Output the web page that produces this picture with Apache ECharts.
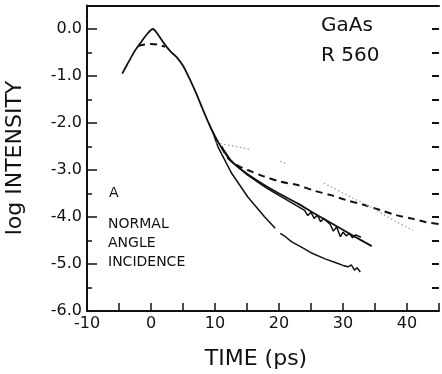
<!DOCTYPE html>
<html><head><meta charset="utf-8">
<script src="https://cdn.jsdelivr.net/npm/echarts@6/dist/echarts.min.js"></script>
<style>html,body{margin:0;padding:0;background:#fff}#c{width:442px;height:374px}</style>
</head><body><div id="c"></div>
<script>
// Main solid curve: peak, then the smooth middle decay line
const mainCurve = [[-4.5,-0.95],[-3.5,-0.7],[-2.5,-0.46],[-1.5,-0.27],[-0.5,-0.09],[0.3,0.0],[1,-0.1],[2,-0.3],[3,-0.47],[4,-0.6],[5,-0.78],[6,-1.05],[7,-1.35],[8,-1.68],[9,-2.0],[10,-2.28],[11,-2.52],[12.6,-2.82],[15,-3.08],[17.7,-3.32],[20,-3.5],[22.9,-3.71],[25.6,-3.93],[29.7,-4.25],[32,-4.43],[34.5,-4.62]];
// Noisy middle measured curve
const noisyCurve = [[11,-2.5],[12.5,-2.8],[15,-3.1],[18,-3.38],[21,-3.62],[23,-3.78],[24,-3.86],[24.5,-3.97],[25,-3.9],[25.5,-4.03],[26,-3.96],[26.5,-4.1],[27,-4.03],[28,-4.16],[28.5,-4.3],[29,-4.21],[29.6,-4.42],[30,-4.32],[30.5,-4.4],[31,-4.35],[31.5,-4.44],[32,-4.38],[32.8,-4.43]];
// Lower solid curve (with a small gap near 20 ps)
const lowerCurve = [[9,-2.0],[9.8,-2.25],[10.5,-2.52],[12.6,-3.07],[15.1,-3.57],[17.7,-3.99],[19.4,-4.24],null,[20.2,-4.35],[21,-4.42],[22,-4.53],[23.5,-4.64],[25,-4.76],[27.2,-4.89],[29,-4.98],[30,-5.03],[30.8,-5.06],[31.3,-5.02],[31.8,-5.13],[32.2,-5.08],[32.7,-5.17]];
// Dashed curve: flat top near peak, then slow decay
const dashedCurve = [[-2,-0.36],[-1,-0.33],[0,-0.32],[1,-0.33],[2.2,-0.38],null,[11,-2.5],[12.1,-2.76],[13.5,-2.9],[15.1,-3.0],[17.5,-3.13],[20.3,-3.25],[22.9,-3.32],[25.5,-3.44],[28,-3.53],[30.5,-3.64],[33.2,-3.74],[36,-3.86],[38.3,-3.96],[41,-4.04],[43,-4.11],[45,-4.15]];
// Faint dotted curve (fragmented)
const dottedCurve = [[10.2,-2.42],[12,-2.47],[14,-2.52],[15.7,-2.57],null,[20.2,-2.81],[21,-2.86],null,[27,-3.28],[29.6,-3.46],[32,-3.63],[34.2,-3.78],[36.3,-3.94],[38.3,-4.1],[40.9,-4.28]];
const xTicks = [-10,0,10,20,30,40];
const yTicks = [-6,-5,-4,-3,-2,-1,0];
const labelsTopRight = ['GaAs','R 560'];
const labelsLeft = ['A','NORMAL','ANGLE','INCIDENCE'];

const chart = echarts.init(document.getElementById('c'), null, {renderer:'canvas'});
const F = 'DejaVu Sans';
const ink = '#111';
chart.setOption({
  animation:false,
  backgroundColor:'#fff',
  grid:{left:87,right:0,top:5.5,bottom:63},
  xAxis:[{
    type:'value', min:-10, max:45, interval:5,
    axisLine:{show:true,onZero:false,lineStyle:{color:ink,width:2}},
    axisTick:{show:true,inside:true,length:8,lineStyle:{color:ink,width:1.5}},
    minorTick:{show:false},
    splitLine:{show:false},
    axisLabel:{color:ink,fontFamily:F,fontSize:16,margin:5,
      formatter:v=> xTicks.indexOf(v)>=0 ? String(v) : ''}
  },{
    type:'value', position:'top', min:-10, max:45,
    axisLine:{show:true,onZero:false,lineStyle:{color:ink,width:2}},
    axisTick:{show:false}, axisLabel:{show:false}, splitLine:{show:false}
  }],
  yAxis:[{
    type:'value', min:-6, max:0.5, interval:1,
    axisLine:{show:true,onZero:false,lineStyle:{color:ink,width:2}},
    axisTick:{show:true,inside:true,length:10,lineStyle:{color:ink,width:1.5}},
    minorTick:{show:true,splitNumber:2,length:5,lineStyle:{color:ink,width:1.5}},
    splitLine:{show:false},
    axisLabel:{color:ink,fontFamily:F,fontSize:16,margin:5,
      formatter:v=> yTicks.indexOf(v)>=0 ? v.toFixed(1) : ''}
  },{
    type:'value', position:'right', min:-6, max:0.5, interval:0.5,
    axisLine:{show:false,onZero:false},
    axisTick:{show:true,inside:true,length:7,lineStyle:{color:ink,width:2}},
    axisLabel:{show:false}, splitLine:{show:false}
  }],
  series:[
    {type:'line',data:mainCurve,showSymbol:false,smooth:0.3,lineStyle:{color:ink,width:1.8}},
    {type:'line',data:noisyCurve,showSymbol:false,lineStyle:{color:ink,width:1.5}},
    {type:'line',data:lowerCurve,showSymbol:false,connectNulls:false,lineStyle:{color:ink,width:1.5}},
    {type:'line',data:dashedCurve,showSymbol:false,smooth:0.3,connectNulls:false,lineStyle:{color:ink,width:2,type:[7,5]}},
    {type:'line',data:dottedCurve,showSymbol:false,connectNulls:false,lineStyle:{color:'#999',width:1.2,type:[1.5,2.5]}}
  ],
  graphic:[
    {type:'text',left:321,top:16,style:{text:labelsTopRight[0],font:'20px "DejaVu Sans"',fill:ink}},
    {type:'text',left:321,top:46,style:{text:labelsTopRight[1],font:'20px "DejaVu Sans"',fill:ink}},
    {type:'text',left:109,top:186,style:{text:labelsLeft[0],font:'14px "DejaVu Sans"',fill:ink}},
    {type:'text',left:108,top:217,style:{text:labelsLeft[1],font:'14px "DejaVu Sans"',fill:ink}},
    {type:'text',left:108,top:236,style:{text:labelsLeft[2],font:'14px "DejaVu Sans"',fill:ink}},
    {type:'text',left:108,top:255,style:{text:labelsLeft[3],font:'14px "DejaVu Sans"',fill:ink}},
    {type:'text',x:256,y:359,style:{text:'TIME (ps)',font:'22px "DejaVu Sans"',fill:ink,align:'center',verticalAlign:'middle'}},
    {type:'text',x:15,y:158,rotation:Math.PI/2,style:{text:'log INTENSITY',font:'22px "DejaVu Sans"',fill:ink,align:'center',verticalAlign:'middle'}}
  ]
});
</script></body></html>
